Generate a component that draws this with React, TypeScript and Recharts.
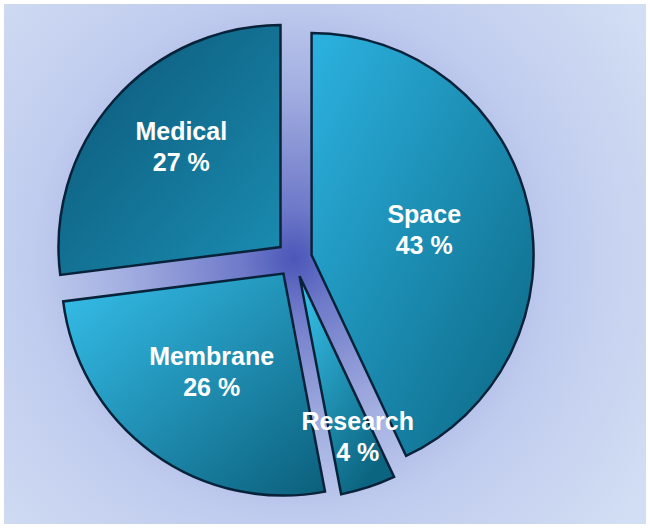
import React from "react";
import { PieChart, Pie, Cell, Sector } from "recharts";

// clockwise from 12 o'clock
const SECTORS = ["Space", "Research", "Membrane", "Medical"];
const SHARES = [43, 4, 26, 27];

const GRADIENTS = [
  { id: "gSpace", x1: 0, y1: 0, x2: 1, y2: 1, from: "#2cb2e0", to: "#0b6683" },
  { id: "gResearch", x1: 0, y1: 0, x2: 0.6, y2: 1, from: "#38c6f0", to: "#0c6580" },
  { id: "gMembrane", x1: 0, y1: 0, x2: 1, y2: 1, from: "#36c0ec", to: "#0b5f7b" },
  { id: "gMedical", x1: 0, y1: 0, x2: 1, y2: 1, from: "#0c5676", to: "#1a8db2" },
];

// how far along the radius each label sits (style only)
const LABEL_POS = [0.52, 0.76, 0.55, 0.68];

const EXPLODE = 18;
const RAD = Math.PI / 180;

const data = SECTORS.map((name, i) => ({ name, value: SHARES[i] }));

const ExplodedSector = (props: any) => {
  const { cx, cy, midAngle } = props;
  const dx = EXPLODE * Math.cos(-midAngle * RAD);
  const dy = EXPLODE * Math.sin(-midAngle * RAD);
  return <Sector {...props} cx={cx + dx} cy={cy + dy} />;
};

const renderLabel = (props: any) => {
  const { cx, cy, midAngle, outerRadius, index, name, value } = props;
  const r = EXPLODE + outerRadius * LABEL_POS[index];
  const x = cx + r * Math.cos(-midAngle * RAD) + (index === 3 ? 14 : index === 1 ? 6 : 0);
  const y = cy + r * Math.sin(-midAngle * RAD);
  return (
    <text
      x={x}
      y={y}
      fill="#ffffff"
      textAnchor="middle"
      fontFamily="'Liberation Sans', Arial, sans-serif"
      fontWeight="bold"
      fontSize={25}
    >
      <tspan x={x} dy={-7}>
        {name}
      </tspan>
      <tspan x={x} dy={31}>
        {value} %
      </tspan>
    </text>
  );
};

export default function App() {
  return (
    <div style={{ position: "absolute", left: 0, top: 0, width: 650, height: 528, background: "#ffffff" }}>
      <PieChart width={650} height={528} margin={{ top: 0, right: 0, bottom: 0, left: 0 }}>
        <defs>
          <radialGradient id="bgGlow" cx={294} cy={259} r={420} gradientUnits="userSpaceOnUse">
            <stop offset="0" stopColor="#4b56b8" />
            <stop offset="0.12" stopColor="#6e79c9" />
            <stop offset="0.4" stopColor="#a2aee0" />
            <stop offset="0.62" stopColor="#c0ccee" />
            <stop offset="1" stopColor="#d2def3" />
          </radialGradient>
          {GRADIENTS.map((g) => (
            <linearGradient key={g.id} id={g.id} x1={g.x1} y1={g.y1} x2={g.x2} y2={g.y2}>
              <stop offset="0" stopColor={g.from} />
              <stop offset="1" stopColor={g.to} />
            </linearGradient>
          ))}
        </defs>
        <rect x={4} y={4} width={642} height={520} fill="url(#bgGlow)" />
        <Pie
          data={data}
          dataKey="value"
          nameKey="name"
          cx={294}
          cy={259}
          outerRadius={222}
          startAngle={90}
          endAngle={-270}
          stroke="#08223a"
          strokeWidth={2.5}
          shape={ExplodedSector}
          label={renderLabel}
          labelLine={false}
          isAnimationActive={false}
        >
          {data.map((d, i) => (
            <Cell key={d.name} fill={`url(#${GRADIENTS[i].id})`} stroke="#08223a" strokeWidth={2.5} />
          ))}
        </Pie>
      </PieChart>
    </div>
  );
}
